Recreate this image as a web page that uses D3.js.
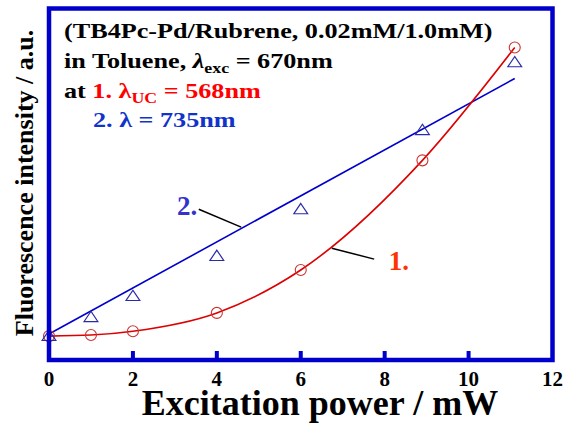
<!DOCTYPE html>
<html>
<head>
<meta charset="utf-8">
<script src="https://cdn.jsdelivr.net/npm/d3@7"></script>
</head>
<body style="margin:0">
<svg id="chart" width="571" height="423"></svg>
<script>
// Excitation power (mW)
const power = [0, 1, 2, 4, 6, 8.9, 11.1];
// 1. upconverted emission at 568nm (a.u.)
const ucIntensity = [6.8, 7.1, 8.2, 13.4, 25.6, 56.8, 88.9];
// 2. emission at 735nm (a.u.)
const nirIntensity = [6.5, 11.9, 17.9, 29.3, 42.6, 65.1, 84.4];
// straight fit drawn through series 2 (end points)
const nirFitX = [0, 11.1];
const nirFitY = [7.4, 80.1];
const xTicks = [0, 2, 4, 6, 8, 10, 12];

const svg = d3.select('#chart');
const frame = { left: 49, right: 552.5, top: 8.5, bottom: 360 };

const x = d3.scaleLinear().domain([0, 12]).range([frame.left, frame.right]);
const y = d3.scaleLinear().domain([0, 100]).range([frame.bottom, frame.top]);

const BLUE = '#0000cc';
const RED = '#dd0000';

// every label is bold serif
function label(sel) {
  return sel.append('text').attr('font-family', 'Liberation Serif').attr('font-weight', 'bold');
}

// Curves first, frame on top
const line = d3.line().x((d) => x(d[0])).y((d) => y(d[1]));

svg.append('path')
  .datum(nirFitX.map((v, i) => [v, nirFitY[i]]))
  .attr('fill', 'none').attr('stroke', BLUE).attr('stroke-width', 1.6)
  .attr('d', line);

svg.append('path')
  .datum(power.map((v, i) => [v, ucIntensity[i]]))
  .attr('fill', 'none').attr('stroke', RED).attr('stroke-width', 1.6)
  .attr('d', line.curve(d3.curveMonotoneX));

// Markers
svg.append('g').selectAll('circle')
  .data(power.map((v, i) => [v, ucIntensity[i]]))
  .join('circle')
  .attr('cx', (d) => x(d[0])).attr('cy', (d) => y(d[1]))
  .attr('r', 5.5)
  .attr('fill', 'none').attr('stroke', '#cc3333').attr('stroke-width', 1.1);

const tri = d3.symbol().type(d3.symbolTriangle).size(75);
svg.append('g').selectAll('path')
  .data(power.map((v, i) => [v, nirIntensity[i]]))
  .join('path')
  .attr('transform', (d) => `translate(${x(d[0])},${y(d[1])}) scale(1.05,0.9)`)
  .attr('d', tri)
  .attr('fill', 'none').attr('stroke', '#2a2aa8').attr('stroke-width', 1.2);

// Frame + inward ticks on the bottom axis
svg.append('rect')
  .attr('x', frame.left).attr('y', frame.top)
  .attr('width', frame.right - frame.left).attr('height', frame.bottom - frame.top)
  .attr('fill', 'none').attr('stroke', BLUE).attr('stroke-width', 4.5);

svg.append('g').selectAll('line')
  .data(xTicks.slice(1, -1))
  .join('line')
  .attr('x1', (d) => x(d)).attr('x2', (d) => x(d))
  .attr('y1', frame.bottom).attr('y2', frame.bottom - 9)
  .attr('stroke', BLUE).attr('stroke-width', 4);

const tickG = svg.append('g');
xTicks.forEach((t) => {
  label(tickG)
    .attr('x', x(t)).attr('y', 386)
    .attr('text-anchor', 'middle')
    .attr('font-size', 21)
    .text(t);
});

// Axis titles
label(svg)
  .attr('x', 320).attr('y', 415)
  .attr('text-anchor', 'middle')
  .attr('font-size', 36)
  .text('Excitation power / mW');

label(svg)
  .attr('transform', 'translate(33,183) rotate(-90)')
  .attr('text-anchor', 'middle')
  .attr('font-size', 26)
  .text('Fluorescence intensity / a.u.');

// Annotation block (slightly wide lettering in the original)
const sx = 1.19;
const note = svg.append('g').attr('transform', `translate(64,0) scale(${sx},1)`);
const fs = 22;
label(note).attr('x', 0).attr('y', 38).attr('font-size', fs)
  .text('(TB4Pc-Pd/Rubrene, 0.02mM/1.0mM)');

const l2 = label(note).attr('x', 0).attr('y', 68).attr('font-size', fs);
l2.append('tspan').text('in Toluene, ');
l2.append('tspan').attr('font-style', 'italic').text('λ');
l2.append('tspan').attr('font-size', 15).attr('dy', 5).text('exc');
l2.append('tspan').attr('dy', -5).text(' = 670nm');

const l3 = label(note).attr('x', 0).attr('y', 98).attr('font-size', fs);
l3.append('tspan').text('at ');
l3.append('tspan').attr('fill', '#ff0000').text('1. λ');
l3.append('tspan').attr('fill', '#ff0000').attr('font-size', 15).attr('dy', 5).text('UC');
l3.append('tspan').attr('fill', '#ff0000').attr('dy', -5).text(' = 568nm');

label(note).attr('x', (93 - 64) / sx).attr('y', 127).attr('font-size', fs)
  .attr('fill', '#1133cc')
  .text('2. λ = 735nm');

// Series labels with leader lines
svg.append('line')
  .attr('x1', x(3.57)).attr('y1', y(42.9)).attr('x2', x(4.58)).attr('y2', y(37.8))
  .attr('stroke', '#000').attr('stroke-width', 1.5);
label(svg)
  .attr('x', x(3.05)).attr('y', y(41.2))
  .attr('font-size', 27).attr('fill', '#3333cc')
  .text('2.');

svg.append('line')
  .attr('x1', x(6.74)).attr('y1', y(31.8)).attr('x2', x(7.75)).attr('y2', y(28.7))
  .attr('stroke', '#000').attr('stroke-width', 1.5);
label(svg)
  .attr('x', x(8.1)).attr('y', y(25.6))
  .attr('font-size', 27).attr('fill', '#ff3300')
  .text('1.');
</script>
</body>
</html>
